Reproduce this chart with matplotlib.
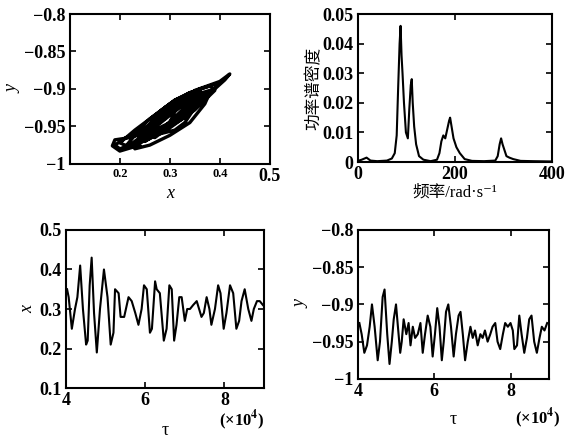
"""Chaotic oscillation: phase portrait, power spectrum and time series."""

import matplotlib
matplotlib.use('Agg')
import matplotlib.pyplot as plt

plt.rcParams['font.family'] = ['Liberation Serif', 'Noto Sans CJK SC', 'DejaVu Sans']
plt.rcParams['font.weight'] = 'bold'
plt.rcParams['mathtext.fontset'] = 'stix'

# phase portrait x-y
phase_x = [0.22, 0.27, 0.33, 0.36, 0.37, 0.33, 0.27, 0.20, 0.19, 0.21, 0.26, 0.30,
           0.35, 0.40, 0.42, 0.41, 0.36, 0.30, 0.24, 0.21, 0.23, 0.28, 0.32, 0.35,
           0.38, 0.36, 0.31, 0.26, 0.22, 0.24, 0.28, 0.31, 0.34, 0.33, 0.29, 0.25,
           0.23, 0.26, 0.30, 0.34, 0.38, 0.39, 0.35, 0.30, 0.27, 0.25, 0.27, 0.29,
           0.33, 0.36, 0.34, 0.31, 0.28, 0.22, 0.20, 0.23, 0.27, 0.31, 0.36, 0.40,
           0.38, 0.33, 0.29, 0.26, 0.25, 0.29, 0.33, 0.36, 0.38, 0.37, 0.34, 0.30,
           0.26, 0.23, 0.24, 0.27, 0.28, 0.31, 0.34, 0.36, 0.35, 0.32, 0.29, 0.27,
           0.25, 0.27, 0.29, 0.32, 0.35, 0.33, 0.31, 0.28, 0.26, 0.265, 0.28, 0.31,
           0.30, 0.27, 0.22, 0.19, 0.185, 0.20, 0.24]
phase_y = [-0.975, -0.950, -0.918, -0.905, -0.912, -0.938, -0.962, -0.980, -0.975, -0.966,
           -0.952, -0.928, -0.902, -0.890, -0.880, -0.888, -0.918, -0.948, -0.972, -0.978,
           -0.962, -0.938, -0.918, -0.908, -0.902, -0.915, -0.945, -0.966, -0.978, -0.968,
           -0.946, -0.930, -0.915, -0.925, -0.950, -0.968, -0.960, -0.940, -0.920, -0.905,
           -0.896, -0.902, -0.928, -0.952, -0.962, -0.955, -0.940, -0.925, -0.910, -0.905,
           -0.920, -0.940, -0.958, -0.978, -0.972, -0.955, -0.935, -0.915, -0.900, -0.892,
           -0.906, -0.932, -0.954, -0.965, -0.970, -0.955, -0.930, -0.910, -0.905, -0.920,
           -0.945, -0.962, -0.975, -0.980, -0.970, -0.950, -0.930, -0.915, -0.905, -0.902,
           -0.915, -0.935, -0.955, -0.965, -0.958, -0.945, -0.928, -0.920, -0.925, -0.945,
           -0.955, -0.960, -0.955, -0.940, -0.935, -0.930, -0.945, -0.955, -0.965, -0.968,
           -0.976, -0.983, -0.975]

# power spectrum
freq = [0, 8, 18, 26, 40, 60, 70, 76, 80, 83, 86, 88, 90, 92, 95, 99, 103, 106,
        109, 111, 113, 116, 120, 126, 135, 150, 163, 168, 172, 176, 180, 184, 188,
        190, 193, 197, 203, 210, 220, 235, 260, 283, 288, 292, 295, 298, 302, 306,
        312, 320, 335, 360, 400]
power = [0.0004, 0.0008, 0.0015, 0.0005, 0.0003, 0.0005, 0.0012, 0.003, 0.009, 0.025,
         0.040, 0.046, 0.036, 0.030, 0.020, 0.010, 0.008, 0.018, 0.026, 0.028,
         0.020, 0.012, 0.006, 0.002, 0.0008, 0.0003, 0.0008, 0.003, 0.007, 0.009,
         0.008, 0.011, 0.014, 0.015, 0.012, 0.008, 0.005, 0.003, 0.001, 0.0004,
         0.0003, 0.0005, 0.002, 0.006, 0.008, 0.006, 0.004, 0.002, 0.0015, 0.001,
         0.0004, 0.0003, 0.0002]

# time series x(tau), tau in units of 1e4
tau_x = [4.03, 4.07, 4.15, 4.23, 4.29, 4.36, 4.43, 4.51, 4.55, 4.60, 4.65, 4.71,
         4.78, 4.86, 4.96, 5.05, 5.13, 5.20, 5.24, 5.33, 5.38, 5.47, 5.58, 5.66,
         5.75, 5.83, 5.91, 5.97, 6.04, 6.12, 6.17, 6.25, 6.29, 6.37, 6.47, 6.54,
         6.61, 6.67, 6.73, 6.79, 6.86, 6.92, 7.00, 7.06, 7.13, 7.21, 7.30, 7.36,
         7.42, 7.48, 7.55, 7.62, 7.67, 7.76, 7.84, 7.90, 7.98, 8.05, 8.14, 8.22,
         8.30, 8.37, 8.43, 8.51, 8.60, 8.68, 8.74, 8.82, 8.89, 8.97]
x_vals = [0.35, 0.33, 0.25, 0.30, 0.33, 0.41, 0.30, 0.21, 0.22, 0.36, 0.43, 0.29,
          0.19, 0.30, 0.40, 0.33, 0.21, 0.24, 0.35, 0.34, 0.28, 0.28, 0.33, 0.32,
          0.29, 0.26, 0.30, 0.36, 0.35, 0.24, 0.25, 0.37, 0.35, 0.34, 0.22, 0.25,
          0.36, 0.35, 0.22, 0.26, 0.33, 0.33, 0.27, 0.30, 0.30, 0.31, 0.32, 0.30,
          0.28, 0.29, 0.33, 0.30, 0.26, 0.30, 0.36, 0.34, 0.25, 0.29, 0.36, 0.34,
          0.25, 0.27, 0.32, 0.35, 0.30, 0.27, 0.30, 0.32, 0.32, 0.31]

# time series y(tau)
tau_y = [4.04, 4.10, 4.17, 4.24, 4.31, 4.37, 4.44, 4.52, 4.58, 4.65, 4.70, 4.77,
         4.83, 4.89, 4.94, 5.00, 5.05, 5.11, 5.15, 5.20, 5.27, 5.33, 5.38, 5.44,
         5.50, 5.57, 5.64, 5.70, 5.76, 5.83, 5.90, 5.96, 6.02, 6.08, 6.14, 6.20,
         6.25, 6.31, 6.37, 6.44, 6.51, 6.57, 6.64, 6.69, 6.75, 6.81, 6.88, 6.95,
         7.01, 7.07, 7.14, 7.21, 7.27, 7.33, 7.40, 7.47, 7.53, 7.60, 7.66, 7.73,
         7.80, 7.86, 7.93, 8.00, 8.06, 8.10, 8.17, 8.23, 8.29, 8.36, 8.43, 8.49,
         8.55, 8.62, 8.69, 8.76, 8.82, 8.89, 8.96]
y_vals = [-0.925, -0.940, -0.965, -0.955, -0.930, -0.900, -0.930, -0.975, -0.950, -0.890,
          -0.880, -0.940, -0.980, -0.950, -0.920, -0.900, -0.930, -0.965, -0.950, -0.920,
          -0.940, -0.925, -0.955, -0.930, -0.945, -0.940, -0.925, -0.965, -0.940, -0.915,
          -0.930, -0.970, -0.940, -0.905, -0.930, -0.975, -0.950, -0.910, -0.900, -0.930,
          -0.970, -0.940, -0.915, -0.910, -0.940, -0.975, -0.950, -0.930, -0.945, -0.935,
          -0.955, -0.940, -0.945, -0.935, -0.950, -0.940, -0.930, -0.925, -0.950, -0.960,
          -0.940, -0.925, -0.930, -0.925, -0.935, -0.960, -0.955, -0.915, -0.940, -0.965,
          -0.945, -0.920, -0.915, -0.950, -0.965, -0.945, -0.930, -0.935, -0.925]

fig = plt.figure(figsize=(5.68, 4.38), dpi=100)
ax1 = fig.add_axes([0.123, 0.626, 0.352, 0.342])
ax2 = fig.add_axes([0.630, 0.630, 0.342, 0.338])
ax3 = fig.add_axes([0.116, 0.114, 0.349, 0.361])
ax4 = fig.add_axes([0.630, 0.135, 0.336, 0.340])

for ax in (ax1, ax2, ax3, ax4):
    ax.tick_params(direction='in', top=True, right=True, length=4, width=1.2,
                   labelsize=13, pad=3)
    for s in ax.spines.values():
        s.set_linewidth(1.5)

# phase portrait
ax1.plot(phase_x, phase_y, color='black', lw=2.4)
ax1.set_xlim(0.1, 0.5)
ax1.set_ylim(-1, -0.8)
ax1.set_xticks([0.1, 0.2, 0.3, 0.4, 0.5])
ax1.set_xticklabels(['', '0.2', '0.3', '0.4', '0.5'])
for lab in ax1.get_xticklabels()[1:4]:
    lab.set_fontsize(9)
ax1.set_yticks([-1, -0.95, -0.9, -0.85, -0.8])
ax1.set_yticklabels(['\u22121', '\u22120.95', '\u22120.9', '\u22120.85', '\u22120.8'])
ax1.set_xlabel('x', fontsize=13, style='italic', labelpad=0)
ax1.set_ylabel('y', fontsize=13, style='italic', labelpad=2)

# power spectrum
ax2.plot(freq, power, color='black', lw=1.5)
ax2.set_xlim(0, 400)
ax2.set_ylim(0, 0.05)
ax2.set_xticks([0, 200, 400])
ax2.set_yticks([0, 0.01, 0.02, 0.03, 0.04, 0.05])
ax2.set_yticklabels(['0', '0.01', '0.02', '0.03', '0.04', '0.05'])
ax2.set_xlabel('频率/rad\u00b7s\u207b\u00b9', fontsize=12, labelpad=1)
ax2.set_ylabel('功率谱密度', fontsize=12, labelpad=0)

# x(tau)
ax3.plot(tau_x, x_vals, color='black', lw=1.5)
ax3.set_xlim(4, 9)
ax3.set_ylim(0.1, 0.5)
ax3.set_xticks([4, 6, 8])
ax3.set_yticks([0.1, 0.2, 0.3, 0.4, 0.5])
ax3.set_yticklabels(['0.1', '0.2', '0.3', '0.4', '0.5'])
ax3.set_xlabel('\u03c4', fontsize=13, labelpad=9)
ax3.set_ylabel('x', fontsize=13, style='italic', labelpad=2)
ax3.text(1.0, -0.2, '(\u00d710$^4$)', transform=ax3.transAxes, ha='right',
         va='center', fontsize=12)

# y(tau)
ax4.plot(tau_y, y_vals, color='black', lw=1.5)
ax4.set_xlim(4, 9)
ax4.set_ylim(-1, -0.8)
ax4.set_xticks([4, 6, 8])
ax4.set_yticks([-1, -0.95, -0.9, -0.85, -0.8])
ax4.set_yticklabels(['\u22121', '\u22120.95', '\u22120.9', '\u22120.85', '\u22120.8'])
ax4.set_xlabel('\u03c4', fontsize=13, labelpad=8)
ax4.set_ylabel('y', fontsize=13, style='italic', labelpad=2)
ax4.text(1.06, -0.26, '(\u00d710$^4$)', transform=ax4.transAxes, ha='right',
         va='center', fontsize=12)

fig.savefig('out.png', dpi=100, facecolor='white')
